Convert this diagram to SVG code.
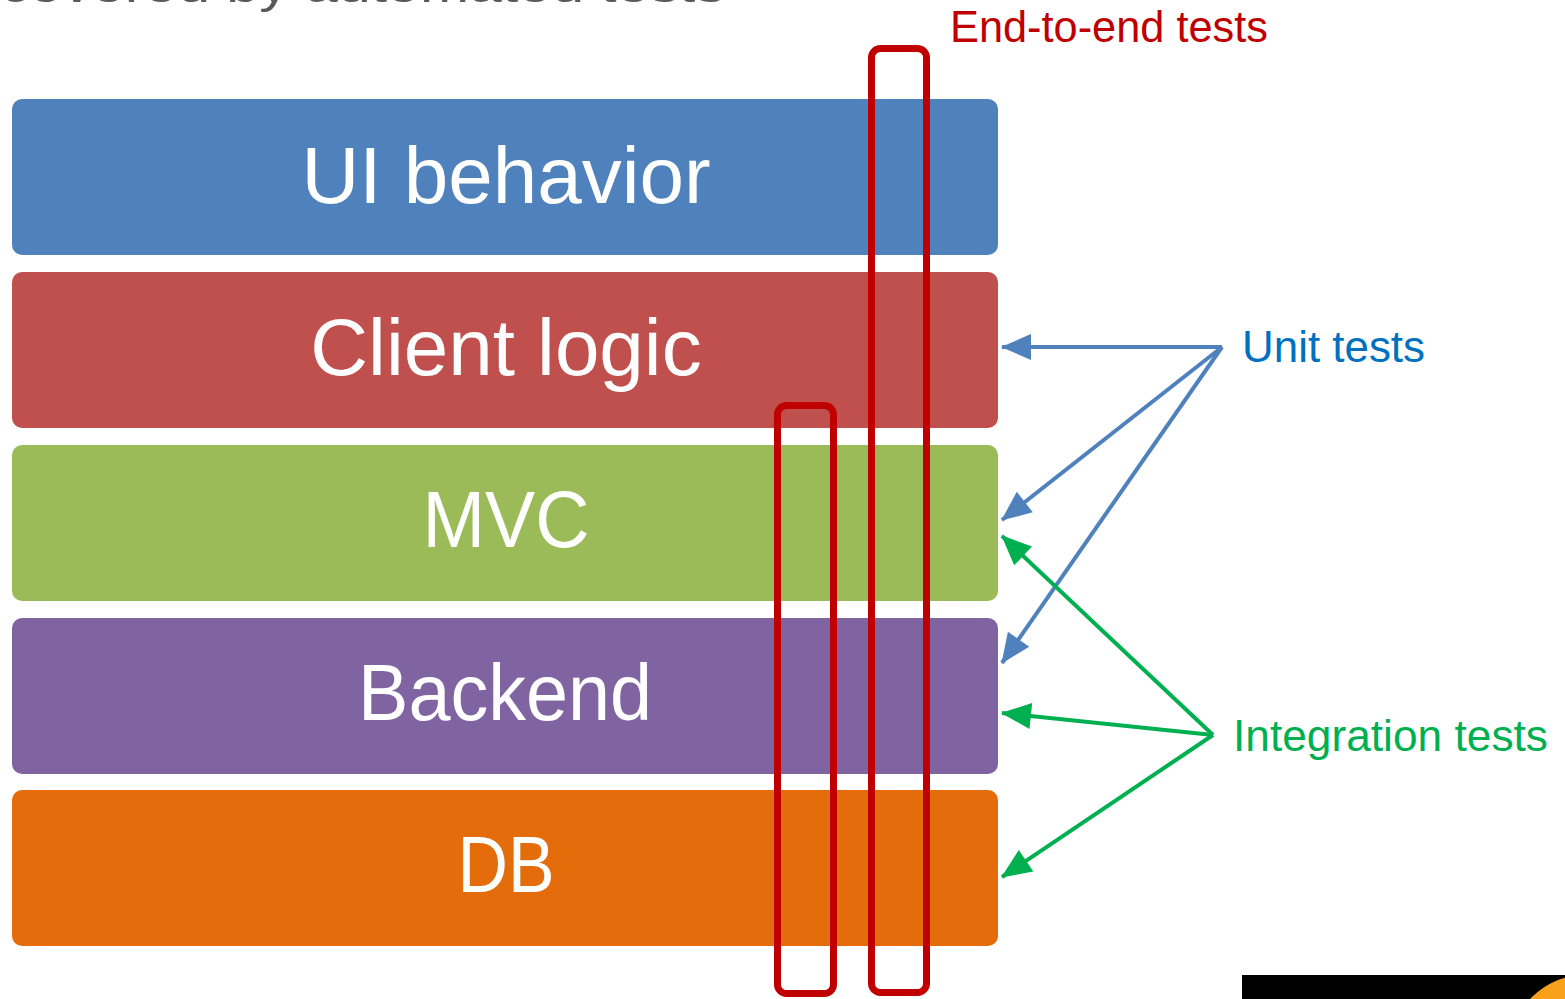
<svg xmlns="http://www.w3.org/2000/svg" width="1565" height="999" viewBox="0 0 1565 999">
<style>
.layer{stroke:none}
.lt{font-family:"Liberation Sans",Arial,sans-serif;font-size:80px;fill:#fff;text-anchor:middle}
.lbl{font-family:"Liberation Sans",Arial,sans-serif;font-size:44px}
.frame{fill:none;stroke:#C00000;stroke-width:7}
.ub{stroke:#4F81BD;stroke-width:4;fill:none}
.ig{stroke:#00B050;stroke-width:4;fill:none}
</style>
<defs>
<marker id="ab" markerUnits="userSpaceOnUse" markerWidth="32" markerHeight="28" refX="29" refY="13" orient="auto" overflow="visible"><path d="M0,0 L30,13 L0,26 z" fill="#4F81BD"/></marker>
<marker id="ag" markerUnits="userSpaceOnUse" markerWidth="32" markerHeight="28" refX="29" refY="13" orient="auto" overflow="visible"><path d="M0,0 L30,13 L0,26 z" fill="#00B050"/></marker>
</defs>
<rect width="1565" height="999" fill="#fff"/>
<text x="0" y="2" font-family="Liberation Sans,Arial,sans-serif" font-size="46" fill="#595959" textLength="725" lengthAdjust="spacingAndGlyphs">covered by automated tests</text>
<g id="ui-behavior"><rect class="layer" x="12" y="99" width="986" height="156" rx="10" fill="#4F81BD"/><text class="lt" x="506" y="203">UI behavior</text></g>
<g id="client-logic"><rect class="layer" x="12" y="272" width="986" height="156" rx="10" fill="#C0504D"/><text class="lt" x="506" y="375">Client logic</text></g>
<g id="mvc"><rect class="layer" x="12" y="445" width="986" height="156" rx="10" fill="#9BBB59"/><text class="lt" x="506" y="547" textLength="167" lengthAdjust="spacingAndGlyphs">MVC</text></g>
<g id="backend"><rect class="layer" x="12" y="618" width="986" height="156" rx="10" fill="#8064A2"/><text class="lt" x="505" y="720" textLength="294" lengthAdjust="spacingAndGlyphs">Backend</text></g>
<g id="db"><rect class="layer" x="12" y="790" width="986" height="156" rx="10" fill="#E46C0A"/><text class="lt" x="506" y="892" textLength="97" lengthAdjust="spacingAndGlyphs">DB</text></g>
<g id="integration-frame"><rect class="frame" x="777.5" y="405.5" width="56" height="588" rx="9"/></g>
<g id="e2e-frame"><rect class="frame" x="871.5" y="48.5" width="55" height="944" rx="9"/></g>
<g id="e2e-label"><text class="lbl" x="950" y="42" fill="#C00000" textLength="318" lengthAdjust="spacingAndGlyphs">End-to-end tests</text></g>
<g id="unit-label"><text class="lbl" x="1242" y="362" fill="#0070C0" textLength="183" lengthAdjust="spacingAndGlyphs">Unit tests</text></g>
<g id="integration-label"><text class="lbl" x="1233" y="751" fill="#00B050" textLength="315" lengthAdjust="spacingAndGlyphs">Integration tests</text></g>
<g id="connectors">
<line class="ub" x1="1222" y1="347" x2="1002" y2="347" marker-end="url(#ab)"/>
<line class="ub" x1="1222" y1="347" x2="1002" y2="520" marker-end="url(#ab)"/>
<line class="ub" x1="1222" y1="347" x2="1002" y2="663" marker-end="url(#ab)"/>
<line class="ig" x1="1213" y1="735" x2="1002" y2="536" marker-end="url(#ag)"/>
<line class="ig" x1="1213" y1="735" x2="1002" y2="713" marker-end="url(#ag)"/>
<line class="ig" x1="1213" y1="735" x2="1002" y2="877" marker-end="url(#ag)"/>
</g>
<rect x="1242" y="975" width="323" height="24" fill="#000"/>
<circle cx="1585" cy="1050" r="75" fill="#F9A11B"/>
</svg>
